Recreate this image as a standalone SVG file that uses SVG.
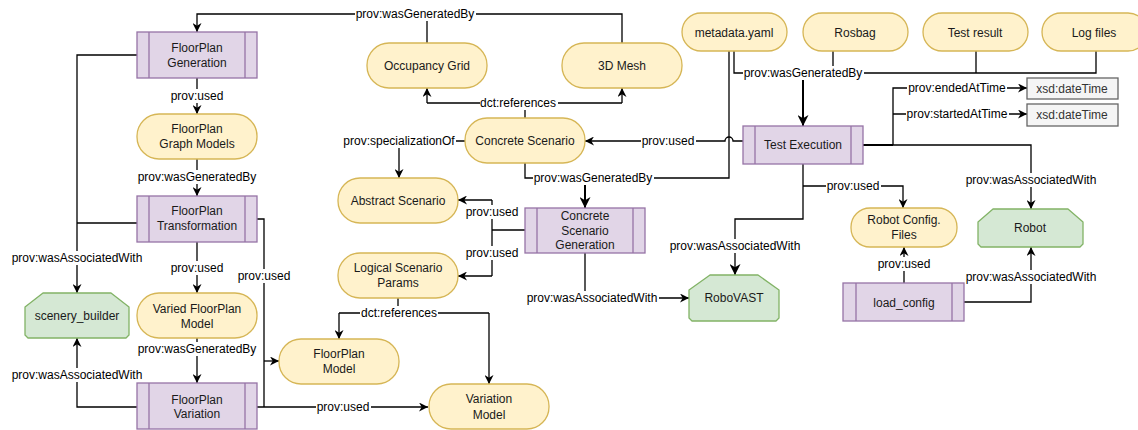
<svg xmlns="http://www.w3.org/2000/svg" width="1138" height="430" viewBox="0 0 1138 430">
<style>
.t{font-family:"Liberation Sans",Arial,sans-serif;font-size:12px;fill:#1a1a1a;text-anchor:middle}
.l{font-family:"Liberation Sans",Arial,sans-serif;font-size:12px;fill:#000;text-anchor:middle}
.g{font-family:"Liberation Sans",Arial,sans-serif;font-size:12px;fill:#333;text-anchor:middle}
.p{fill:#e1d5e7;stroke:#9673a6;stroke-width:1.3}
.y{fill:#fff2cc;stroke:#d6b656;stroke-width:1.3}
.n{fill:#d5e8d4;stroke:#82b366;stroke-width:1.3;stroke-linejoin:round}
.x{fill:#f5f5f5;stroke:#666;stroke-width:1.3}
.e{fill:none;stroke:#000;stroke-width:1.3}
.e2{fill:none;stroke:#000;stroke-width:2}
.lb{fill:#fff}
</style>
<defs>
<marker id="a" viewBox="0 0 10 10" refX="10" refY="5" markerWidth="9" markerHeight="9" markerUnits="userSpaceOnUse" orient="auto"><path d="M0,0 L10,5 L0,10 L3,5 z" fill="#000"/></marker>
<marker id="b" viewBox="0 0 10 10" refX="10" refY="5" markerWidth="11" markerHeight="11" markerUnits="userSpaceOnUse" orient="auto"><path d="M0,0 L10,5 L0,10 L3,5 z" fill="#000"/></marker>
</defs>
<rect width="1138" height="430" fill="#fff"/>
<g id="connectors">
<path class="e" d="M427,43 V14"/>
<path class="e" d="M622,43 V14 H197 V32" marker-end="url(#a)"/>
<path class="e" d="M525,118 V103 M427,103 H622"/>
<path class="e" d="M427,103 V88" marker-end="url(#a)"/>
<path class="e" d="M622,103 V88" marker-end="url(#a)"/>
<path class="e" d="M465,141 H399 V178" marker-end="url(#a)"/>
<path class="e" d="M743,141 H733 A4,4 0 0 0 725,141 H585" marker-end="url(#a)"/>
<path class="e" d="M525,163 V178 H729 V51"/>
<path class="e2" d="M585,178 V208" marker-end="url(#b)"/>
<path class="e" d="M734,51 V73 H1096 V51 M833,51 V73 M976,51 V73"/>
<path class="e2" d="M803,73 V126" marker-end="url(#b)"/>
<path class="e2" d="M863,145 H893"/>
<path class="e" d="M893,145 V88 H1027" marker-end="url(#a)"/>
<path class="e" d="M893,114 H1027" marker-end="url(#a)"/>
<path class="e" d="M893,145 H1031 V209" marker-end="url(#a)"/>
<path class="e" d="M803,164 V219 H735 V275" marker-end="url(#b)"/>
<path class="e" d="M803,186 H903 V208" marker-end="url(#a)"/>
<path class="e" d="M904,283 V247" marker-end="url(#a)"/>
<path class="e" d="M964,302 H1031 V247" marker-end="url(#a)"/>
<path class="e" d="M585,253 V298 H689" marker-end="url(#a)"/>
<path class="e" d="M525,230 H492 M492,200 V276"/>
<path class="e" d="M492,200 H458" marker-end="url(#a)"/>
<path class="e" d="M492,276 H458" marker-end="url(#a)"/>
<path class="e" d="M398,298 V313 M339,313 H489"/>
<path class="e" d="M339,313 V339" marker-end="url(#a)"/>
<path class="e" d="M489,313 V384" marker-end="url(#a)"/>
<path class="e" d="M197,78 V114" marker-end="url(#a)"/>
<path class="e" d="M197,159 V196" marker-end="url(#a)"/>
<path class="e" d="M197,242 V293" marker-end="url(#a)"/>
<path class="e" d="M197,338 V383" marker-end="url(#a)"/>
<path class="e" d="M137,55 H77 V293" marker-end="url(#a)"/>
<path class="e" d="M137,223 H77"/>
<path class="e" d="M137,407 H77 V338" marker-end="url(#a)"/>
<path class="e" d="M257,219 H264 V407 M257,407 H264"/>
<path class="e" d="M264,407 H428" marker-end="url(#a)"/>
<path class="e" d="M264,361 H279" marker-end="url(#a)"/>
<g id="labels">
<rect class="lb" x="355" y="7" width="121" height="14"/><text class="l" x="415" y="18">prov:wasGeneratedBy</text>
<rect class="lb" x="480" y="96" width="78" height="14"/><text class="l" x="518" y="107">dct:references</text>
<rect class="lb" x="342" y="134" width="114" height="14"/><text class="l" x="399" y="145">prov:specializationOf</text>
<rect class="lb" x="641" y="134" width="55" height="14"/><text class="l" x="668" y="145">prov:used</text>
<rect class="lb" x="533" y="171" width="121" height="14"/><text class="l" x="593" y="182">prov:wasGeneratedBy</text>
<rect class="lb" x="743" y="66" width="121" height="14"/><text class="l" x="803" y="77">prov:wasGeneratedBy</text>
<rect class="lb" x="907" y="81" width="100" height="14"/><text class="l" x="957" y="92">prov:endedAtTime</text>
<rect class="lb" x="906" y="107" width="103" height="14"/><text class="l" x="957" y="118">prov:startedAtTime</text>
<rect class="lb" x="965" y="173" width="133" height="14"/><text class="l" x="1031" y="184">prov:wasAssociatedWith</text>
<rect class="lb" x="669" y="239" width="133" height="14"/><text class="l" x="735" y="250">prov:wasAssociatedWith</text>
<rect class="lb" x="826" y="179" width="55" height="14"/><text class="l" x="853" y="190">prov:used</text>
<rect class="lb" x="877" y="257" width="55" height="14"/><text class="l" x="904" y="268">prov:used</text>
<rect class="lb" x="965" y="270" width="133" height="14"/><text class="l" x="1031" y="281">prov:wasAssociatedWith</text>
<rect class="lb" x="526" y="291" width="133" height="14"/><text class="l" x="592" y="302">prov:wasAssociatedWith</text>
<rect class="lb" x="465" y="205" width="55" height="14"/><text class="l" x="492" y="216">prov:used</text>
<rect class="lb" x="465" y="246" width="55" height="14"/><text class="l" x="492" y="257">prov:used</text>
<rect class="lb" x="360" y="306" width="78" height="14"/><text class="l" x="399" y="317">dct:references</text>
<rect class="lb" x="170" y="89" width="55" height="14"/><text class="l" x="197" y="100">prov:used</text>
<rect class="lb" x="137" y="170" width="121" height="14"/><text class="l" x="197" y="181">prov:wasGeneratedBy</text>
<rect class="lb" x="170" y="261" width="55" height="14"/><text class="l" x="197" y="272">prov:used</text>
<rect class="lb" x="137" y="342" width="121" height="14"/><text class="l" x="197" y="353">prov:wasGeneratedBy</text>
<rect class="lb" x="11" y="251" width="133" height="14"/><text class="l" x="77" y="262">prov:wasAssociatedWith</text>
<rect class="lb" x="11" y="368" width="133" height="14"/><text class="l" x="77" y="379">prov:wasAssociatedWith</text>
<rect class="lb" x="237" y="269" width="55" height="14"/><text class="l" x="264" y="280">prov:used</text>
<rect class="lb" x="316" y="400" width="55" height="14"/><text class="l" x="343" y="411">prov:used</text>
</g>
</g>
<g id="fp_gen"><rect class="p" x="137" y="32" width="120" height="46"/><path class="p" d="M149,32 V78 M245,32 V78"/><text class="t" x="197" y="52">FloorPlan</text><text class="t" x="197" y="67">Generation</text></g>
<g id="fp_graph"><rect class="y" x="137" y="114" width="120" height="45" rx="22"/><text class="t" x="197" y="133">FloorPlan</text><text class="t" x="197" y="148">Graph Models</text></g>
<g id="fp_trans"><rect class="p" x="137" y="196" width="120" height="46"/><path class="p" d="M149,196 V242 M245,196 V242"/><text class="t" x="197" y="215">FloorPlan</text><text class="t" x="197" y="230">Transformation</text></g>
<g id="fp_varied"><rect class="y" x="137" y="293" width="120" height="45" rx="22"/><text class="t" x="197" y="313">Varied FloorPlan</text><text class="t" x="197" y="328">Model</text></g>
<g id="fp_var"><rect class="p" x="137" y="383" width="120" height="46"/><path class="p" d="M149,383 V429 M245,383 V429"/><text class="t" x="197" y="404">FloorPlan</text><text class="t" x="197" y="418">Variation</text></g>
<g id="scenery"><polygon class="n" points="25,307 43,293 111,293 129,307 129,335 126,338 28,338 25,335"/><text class="t" x="77" y="320">scenery_builder</text></g>
<g id="occ"><rect class="y" x="367" y="43" width="120" height="45" rx="22"/><text class="t" x="427" y="70">Occupancy Grid</text></g>
<g id="mesh"><rect class="y" x="562" y="43" width="120" height="45" rx="22"/><text class="t" x="622" y="70">3D Mesh</text></g>
<g id="concrete"><rect class="y" x="465" y="118" width="120" height="45" rx="22"/><text class="t" x="525" y="145">Concrete Scenario</text></g>
<g id="abstract"><rect class="y" x="338" y="178" width="120" height="45" rx="22"/><text class="t" x="398" y="205">Abstract Scenario</text></g>
<g id="csg"><rect class="p" x="525" y="208" width="120" height="45"/><path class="p" d="M537,208 V253 M633,208 V253"/><text class="t" x="585" y="220">Concrete</text><text class="t" x="585" y="235">Scenario</text><text class="t" x="585" y="249">Generation</text></g>
<g id="logical"><rect class="y" x="338" y="253" width="120" height="45" rx="22"/><text class="t" x="398" y="272">Logical Scenario</text><text class="t" x="398" y="287">Params</text></g>
<g id="fpmodel"><rect class="y" x="279" y="339" width="120" height="45" rx="22"/><text class="t" x="339" y="358">FloorPlan</text><text class="t" x="339" y="373">Model</text></g>
<g id="varmodel"><rect class="y" x="429" y="384" width="120" height="45" rx="22"/><text class="t" x="489" y="403">Variation</text><text class="t" x="489" y="419">Model</text></g>
<g id="metadata"><rect class="y" x="682" y="13" width="105" height="38" rx="19"/><text class="t" x="734" y="37">metadata.yaml</text></g>
<g id="rosbag"><rect class="y" x="803" y="13" width="105" height="38" rx="19"/><text class="t" x="855" y="37">Rosbag</text></g>
<g id="testresult"><rect class="y" x="923" y="13" width="105" height="38" rx="19"/><text class="t" x="975" y="37">Test result</text></g>
<g id="logfiles"><rect class="y" x="1042" y="13" width="105" height="38" rx="19"/><text class="t" x="1094" y="37">Log files</text></g>
<g id="testexec"><rect class="p" x="743" y="126" width="120" height="38"/><path class="p" d="M755,126 V164 M851,126 V164"/><text class="t" x="803" y="149">Test Execution</text></g>
<g id="xsd1"><rect class="x" x="1027" y="78" width="91" height="21"/><text class="g" x="1072" y="93">xsd:dateTime</text></g>
<g id="xsd2"><rect class="x" x="1027" y="104" width="91" height="22"/><text class="g" x="1072" y="119">xsd:dateTime</text></g>
<g id="robovast"><polygon class="n" points="689,290 710,275 758,275 779,290 779,318 776,321 692,321 689,318"/><text class="t" x="734" y="302">RoboVAST</text></g>
<g id="robotcfg"><rect class="y" x="851" y="208" width="106" height="39" rx="19"/><text class="t" x="904" y="224">Robot Config.</text><text class="t" x="904" y="239">Files</text></g>
<g id="robot"><polygon class="n" points="978,222 993,209 1068,209 1083,222 1083,244 1080,247 981,247 978,244"/><text class="t" x="1030" y="232">Robot</text></g>
<g id="loadcfg"><rect class="p" x="843" y="283" width="121" height="38"/><path class="p" d="M856,283 V321 M952,283 V321"/><text class="t" x="904" y="307">load_config</text></g>
</svg>
